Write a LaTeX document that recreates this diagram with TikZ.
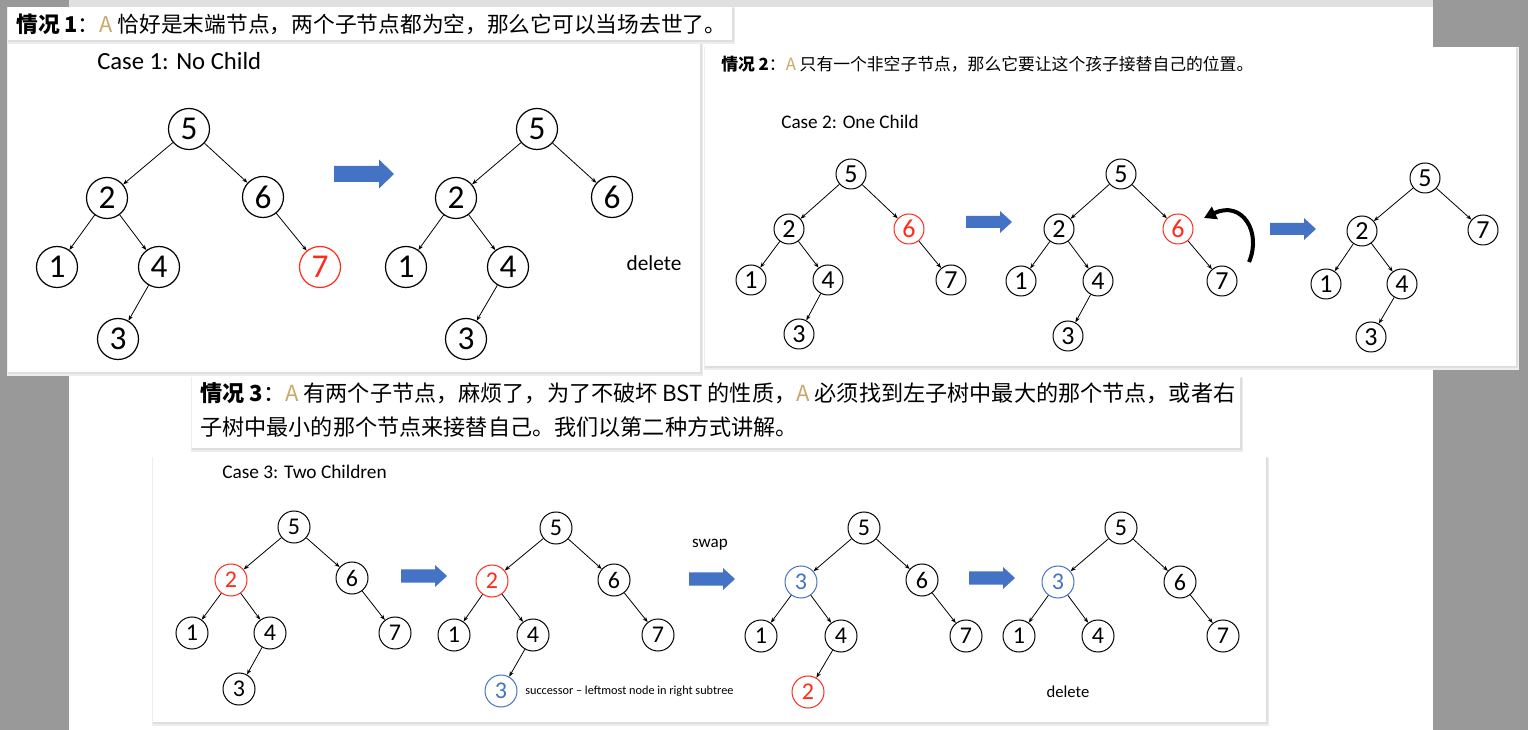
\documentclass[tikz,border=0pt]{standalone}
\usepackage{fontspec}
\setmainfont{Carlito}
\newfontfamily\cjk{Noto Sans CJK SC}
\usetikzlibrary{arrows.meta}
\definecolor{bggray}{HTML}{999999}
\definecolor{ablue}{HTML}{4472C4}
\definecolor{nred}{HTML}{FF2A1A}
\definecolor{atan}{HTML}{C9A86A}
\newcommand\blockarr[6]{%
 \fill[ablue] (#1,{#2-#4}) -- ({#1+#3-#6},{#2-#4}) -- ({#1+#3-#6},{#2-#5}) -- ({#1+#3},#2) -- ({#1+#3-#6},{#2+#5}) -- ({#1+#3-#6},{#2+#4}) -- (#1,{#2+#4}) -- cycle;}
\newcommand\panelbox[4]{%
 \fill[black!7] ({#1-1},{#2}) rectangle ({#3+3},{#4+4});
 \fill[black!13] ({#1},{#2+1}) rectangle ({#3+1.5},{#4+2});
 \fill[white] (#1,#2) rectangle (#3,#4);}
\tikzset{
 tn/.style={circle,draw=black,line width=0.9pt,inner sep=0pt,text=black},
 tA/.style={tn,minimum size=30.75pt,font=\fontsize{25}{25}\selectfont},
 tB/.style={tn,minimum size=22.5pt,line width=0.75pt,font=\fontsize{19.5}{19.5}\selectfont},
 tC/.style={tn,minimum size=24pt,line width=0.75pt,font=\fontsize{18}{18}\selectfont},
 rednode/.style={draw=nred,text=nred},
 bluenode/.style={draw=ablue,text=ablue},
 ed/.style={-{Stealth[length=4pt,width=3pt]},line width=0.6pt},
 lbl/.style={inner sep=0pt,anchor=west},
}
\begin{document}
\begin{tikzpicture}[x=0.75pt,y=-0.75pt]
\useasboundingbox (0,0) rectangle (1528,730);
\fill[bggray] (0,0) rectangle (1528,730);
\fill[white] (69,0) rectangle (1433,730);
\fill[black!12] (69,0) rectangle (1433,7);
% panels
\panelbox{8}{43}{700}{372}
\panelbox{705}{47}{1516}{366}
\panelbox{8}{7}{732}{40}
\panelbox{192}{377}{1240}{448}
\panelbox{153}{457}{1266}{722}
% texts
\node[lbl] (h1) at (16,24) {\fontsize{16.3}{16.3}\selectfont\cjk\textbf{情况 1}：\textcolor{atan}{A} 恰好是末端节点，两个子节点都为空，那么它可以当场去世了。};
\node[lbl] (c1t) at (97,61) {\fontsize{18.5}{18.5}\selectfont Case 1: No Child};
\node[lbl] (h2) at (721,64) {\fontsize{12.6}{12.6}\selectfont\cjk\textbf{情况 2}：\textcolor{atan}{A} 只有一个非空子节点，那么它要让这个孩子接替自己的位置。};
\node[lbl] (c2t) at (781,122) {\fontsize{14.4}{14.4}\selectfont Case 2: One Child};
\node[lbl] (h3a) at (200,393) {\fontsize{16.6}{16.6}\selectfont\cjk\textbf{情况 3}：\textcolor{atan}{A} 有两个子节点，麻烦了，为了不破坏 BST 的性质，\textcolor{atan}{A} 必须找到左子树中最大的那个节点，或者右};
\node[lbl] (h3b) at (200,427) {\fontsize{16.6}{16.6}\selectfont\cjk 子树中最小的那个节点来接替自己。我们以第二种方式讲解。};
\node[lbl] (c3t) at (222,472) {\fontsize{14.5}{14.5}\selectfont Case 3: Two Children};
\node[inner sep=0pt] (del1) at (654,263) {\fontsize{16}{16}\selectfont delete};
\node[inner sep=0pt] (swp) at (710,545) {\fontsize{12.8}{12.8}\selectfont swap};
\node[lbl] (succ) at (525,691) {\fontsize{9.2}{9.2}\selectfont successor – leftmost node in right subtree};
\node[inner sep=0pt] (del3) at (1068,692) {\fontsize{12.5}{12.5}\selectfont delete};
% block arrows
\blockarr{334}{174}{60}{8}{14.5}{15}
\blockarr{966}{222}{46}{6}{11}{12}
\blockarr{1270}{229}{46}{6}{11}{12}
\blockarr{401}{576}{46}{6.5}{11}{12}
\blockarr{689}{579}{46}{6.5}{11}{12}
\blockarr{969}{578}{46}{6.5}{11}{12}
% panel 1 tree A
\node[tA] (a5) at (189,129) {5};
\node[tA] (a2) at (107,198) {2};
\node[tA] (a6) at (263,197) {6};
\node[tA] (a1) at (57,267) {1};
\node[tA] (a4) at (159,267) {4};
\node[tA,rednode] (a7) at (320,267) {7};
\node[tA] (a3) at (118,339) {3};
\foreach \p/\c in {a5/a2,a5/a6,a2/a1,a2/a4,a4/a3,a6/a7} \draw[ed] (\p) -- (\c);
% panel 1 tree B
\node[tA] (b5) at (537,129) {5};
\node[tA] (b2) at (456,198) {2};
\node[tA] (b6) at (612,197) {6};
\node[tA] (b1) at (406,267) {1};
\node[tA] (b4) at (508,267) {4};
\node[tA] (b3) at (466,339) {3};
\foreach \p/\c in {b5/b2,b5/b6,b2/b1,b2/b4,b4/b3} \draw[ed] (\p) -- (\c);
% panel 2 tree C
\node[tB] (c5) at (851,174) {5};
\node[tB] (c2) at (789,229) {2};
\node[tB,rednode] (c6) at (909,229) {6};
\node[tB] (c1) at (751,280) {1};
\node[tB] (c4) at (828,280) {4};
\node[tB] (c7) at (951,280) {7};
\node[tB] (c3) at (799,334) {3};
\foreach \p/\c in {c5/c2,c5/c6,c2/c1,c2/c4,c4/c3,c6/c7} \draw[ed] (\p) -- (\c);
% panel 2 tree D
\node[tB] (d5) at (1121,174) {5};
\node[tB] (d2) at (1059,229) {2};
\node[tB,rednode] (d6) at (1178,229) {6};
\node[tB] (d1) at (1021,281) {1};
\node[tB] (d4) at (1098,281) {4};
\node[tB] (d7) at (1222,281) {7};
\node[tB] (d3) at (1068,336) {3};
\foreach \p/\c in {d5/d2,d5/d6,d2/d1,d2/d4,d4/d3,d6/d7} \draw[ed] (\p) -- (\c);
\coordinate (rotS) at (1249,262);
\coordinate (rotE) at (1204,218);
\draw[line width=3pt,-{Triangle[length=9pt,width=10pt]}] (rotS) .. controls (1262,232) and (1242,200) .. (rotE);
% panel 2 tree E
\node[tB] (e5) at (1425,178) {5};
\node[tB] (e2) at (1362,231) {2};
\node[tB] (e7) at (1483,230) {7};
\node[tB] (e1) at (1326,284) {1};
\node[tB] (e4) at (1402,284) {4};
\node[tB] (e3) at (1371,337) {3};
\foreach \p/\c in {e5/e2,e5/e7,e2/e1,e2/e4,e4/e3} \draw[ed] (\p) -- (\c);
% panel 3 tree F
\node[tC] (f5) at (294,527) {5};
\node[tC,rednode] (f2) at (231,580) {2};
\node[tC] (f6) at (352,578) {6};
\node[tC] (f1) at (192,633) {1};
\node[tC] (f4) at (270,633) {4};
\node[tC] (f7) at (395,633) {7};
\node[tC] (f3) at (239,689) {3};
\foreach \p/\c in {f5/f2,f5/f6,f2/f1,f2/f4,f4/f3,f6/f7} \draw[ed] (\p) -- (\c);
% panel 3 tree G
\node[tC] (g5) at (556,528) {5};
\node[tC,rednode] (g2) at (492,581) {2};
\node[tC] (g6) at (614,580) {6};
\node[tC] (g1) at (454,635) {1};
\node[tC] (g4) at (533,635) {4};
\node[tC] (g7) at (658,635) {7};
\node[tC,bluenode] (g3) at (501,691) {3};
\foreach \p/\c in {g5/g2,g5/g6,g2/g1,g2/g4,g4/g3,g6/g7} \draw[ed] (\p) -- (\c);
% panel 3 tree H
\node[tC] (h5) at (864,528) {5};
\node[tC,bluenode] (h3) at (801,582) {3};
\node[tC] (h6) at (922,580) {6};
\node[tC] (h1) at (761,636) {1};
\node[tC] (h4) at (841,636) {4};
\node[tC] (h7) at (966,636) {7};
\node[tC,rednode] (h2) at (808,692) {2};
\foreach \p/\c in {h5/h3,h5/h6,h3/h1,h3/h4,h4/h2,h6/h7} \draw[ed] (\p) -- (\c);
% panel 3 tree I
\node[tC] (i5) at (1121,528) {5};
\node[tC,bluenode] (i3) at (1058,582) {3};
\node[tC] (i6) at (1180,582) {6};
\node[tC] (i1) at (1019,636) {1};
\node[tC] (i4) at (1098,636) {4};
\node[tC] (i7) at (1223,636) {7};
\foreach \p/\c in {i5/i3,i5/i6,i3/i1,i3/i4,i6/i7} \draw[ed] (\p) -- (\c);
\end{tikzpicture}
\end{document}
